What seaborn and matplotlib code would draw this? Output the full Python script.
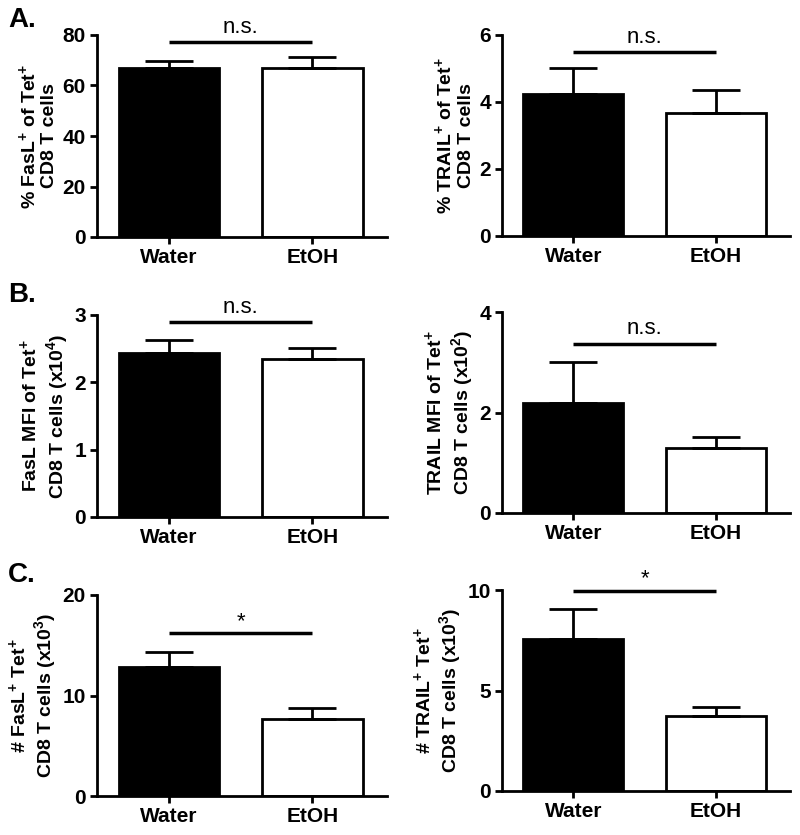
import matplotlib
matplotlib.use('Agg')
import matplotlib.pyplot as plt
import seaborn as sns

sns.set_style('ticks')
plt.rcParams['font.family'] = ['Liberation Sans', 'DejaVu Sans']
plt.rcParams['font.weight'] = 'bold'
plt.rcParams['mathtext.fontset'] = 'custom'
plt.rcParams['mathtext.rm'] = 'Liberation Sans:bold'
plt.rcParams['mathtext.it'] = 'Liberation Sans:bold'
plt.rcParams['mathtext.bf'] = 'Liberation Sans:bold'
plt.rcParams['mathtext.default'] = 'rm'
for key in ['text.color', 'axes.labelcolor', 'xtick.color', 'ytick.color', 'axes.edgecolor']:
    plt.rcParams[key] = 'black'

groups = ['Water', 'EtOH']

# values (mean, upper SEM)
fasl_pct = [66.9, 67.0]
fasl_pct_err = [2.9, 4.4]
trail_pct = [4.23, 3.66]
trail_pct_err = [0.77, 0.70]
fasl_mfi = [2.44, 2.35]
fasl_mfi_err = [0.19, 0.16]
trail_mfi = [2.19, 1.30]
trail_mfi_err = [0.81, 0.21]
fasl_num = [12.8, 7.66]
fasl_num_err = [1.56, 1.07]
trail_num = [7.56, 3.73]
trail_num_err = [1.49, 0.46]

sig_labels = ['n.s.', 'n.s.', 'n.s.', 'n.s.', '*', '*']
sig_heights = [77.3, 5.5, 2.9, 3.37, 16.2, 9.97]

yticks = [[0, 20, 40, 60, 80], [0, 2, 4, 6], [0, 1, 2, 3],
          [0, 2, 4], [0, 10, 20], [0, 5, 10]]

ylabels = [
    '% FasL$^{+}$ of Tet$^{+}$\nCD8 T cells',
    '% TRAIL$^{+}$ of Tet$^{+}$\nCD8 T cells',
    'FasL MFI of Tet$^{+}$\nCD8 T cells (x10$^{4}$)',
    'TRAIL MFI of Tet$^{+}$\nCD8 T cells (x10$^{2}$)',
    '# FasL$^{+}$ Tet$^{+}$\nCD8 T cells (x10$^{3}$)',
    '# TRAIL$^{+}$ Tet$^{+}$\nCD8 T cells (x10$^{3}$)',
]

panel_letters = ['A.', 'B.', 'C.']

means = [fasl_pct, trail_pct, fasl_mfi, trail_mfi, fasl_num, trail_num]
errs = [fasl_pct_err, trail_pct_err, fasl_mfi_err, trail_mfi_err, fasl_num_err, trail_num_err]

W, H = 800, 835
# axes boxes in pixels: left, top, right, bottom
boxes = [
    (97, 35, 387, 237), (502, 35, 790, 236),
    (97, 315, 387, 517), (502, 312, 790, 513),
    (97, 595, 387, 796), (502, 590, 790, 791),
]

fig = plt.figure(figsize=(8, 8.35), dpi=100)

for i in range(6):
    l, t, r, b = boxes[i]
    ax = fig.add_axes([l / W, 1 - b / H, (r - l) / W, (b - t) / H])
    sns.barplot(x=groups, y=means[i], hue=groups, palette=['black', 'white'],
                edgecolor='black', linewidth=2, width=0.7, legend=False, ax=ax)
    ax.errorbar([0, 1], means[i], yerr=[[0, 0], errs[i]], fmt='none',
                ecolor='black', elinewidth=2, capsize=17, capthick=2, zorder=5)
    ax.set_xlim(-0.5, 1.52)
    ax.set_ylim(0, yticks[i][-1])
    ax.set_yticks(yticks[i])
    sns.despine(ax=ax)
    for s in ['left', 'bottom']:
        ax.spines[s].set_linewidth(2)
    ax.tick_params(axis='both', width=2, length=5, pad=3, direction='out')
    ax.tick_params(axis='y', labelsize=15)
    ax.tick_params(axis='x', labelsize=15)
    for lab in ax.get_xticklabels() + ax.get_yticklabels():
        lab.set_fontweight('bold')
    ax.set_ylabel(ylabels[i], fontsize=14, fontweight='bold', labelpad=3, linespacing=1.2)
    ax.set_xlabel('')

    # significance bar
    ax.plot([0, 1], [sig_heights[i], sig_heights[i]], color='black', lw=2.5,
            clip_on=False, solid_capstyle='butt')
    if sig_labels[i] == '*':
        ax.annotate('*', xy=(0.5, sig_heights[i]), xytext=(0, 1), textcoords='offset points',
                    ha='center', va='bottom', fontsize=16, fontweight='normal',
                    annotation_clip=False)
    else:
        ax.annotate('n.s.', xy=(0.5, sig_heights[i]), xytext=(0, 3), textcoords='offset points',
                    ha='center', va='bottom', fontsize=16, fontweight='normal',
                    annotation_clip=False)

for k, y in enumerate([20, 295, 575]):
    fig.text(8 / W, 1 - y / H, panel_letters[k], fontsize=20, fontweight='bold',
             ha='left', va='center')

fig.savefig('out.png', dpi=100)
